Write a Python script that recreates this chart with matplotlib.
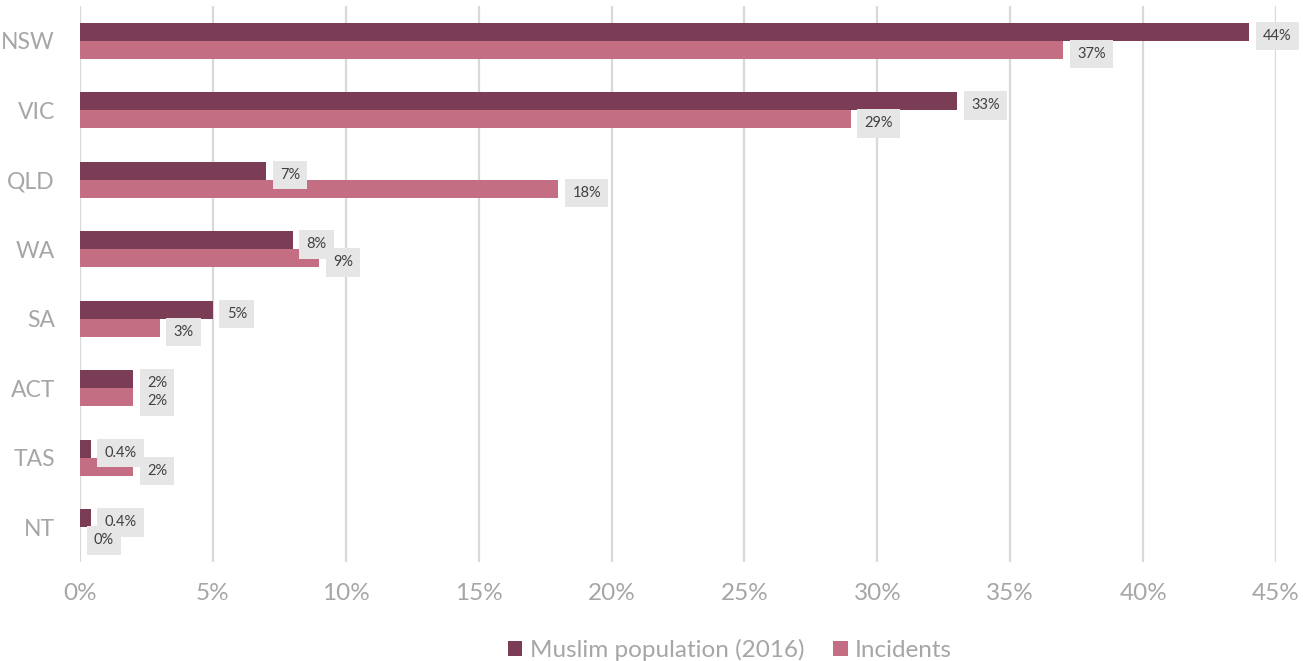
import numpy as np
import matplotlib
matplotlib.use('Agg')
import matplotlib.pyplot as plt
from matplotlib.ticker import FuncFormatter

states = ['NSW', 'VIC', 'QLD', 'WA', 'SA', 'ACT', 'TAS', 'NT']
muslim_pop = [44, 33, 7, 8, 5, 2, 0.4, 0.4]
incidents = [37, 29, 18, 9, 3, 2, 2, 0]
xticks = [0, 5, 10, 15, 20, 25, 30, 35, 40, 45]

dark = '#7b3c55'
light = '#c46e84'
grey = '#a6a6a6'

plt.rcParams['font.family'] = ['Lato', 'DejaVu Sans']

fig = plt.figure(figsize=(13.03, 6.61), dpi=100)
ax = fig.add_axes([80 / 1303, 1 - 562 / 661, 1196 / 1303, 556 / 661])

y = np.arange(len(states))
h = 0.26
b1 = ax.barh(y - h / 2, muslim_pop, height=h, color=dark, label='Muslim population (2016)', zorder=3)
b2 = ax.barh(y + h / 2, incidents, height=h, color=light, label='Incidents', zorder=3)

# data labels in grey boxes
for bars, vals in ((b1, muslim_pop), (b2, incidents)):
    for bar, v in zip(bars, vals):
        ax.annotate(f'{v:g}%', xy=(bar.get_width(), bar.get_y() + bar.get_height() / 2),
                    xytext=(10, -3), textcoords='offset points', ha='left', va='center',
                    fontsize=10.5, color='#404040', zorder=5,
                    bbox=dict(boxstyle='square,pad=0.5', fc='#e6e6e6', ec='none'))

ax.set_xlim(0, 45)
ax.set_ylim(len(states) - 0.5, -0.5)
ax.set_yticks(y)
ax.set_yticklabels(states)
ax.set_xticks(xticks)
ax.xaxis.set_major_formatter(FuncFormatter(lambda v, p: f'{v:g}%'))
ax.grid(axis='x', color='#d9d9d9', linewidth=1.6, zorder=0)
ax.set_axisbelow(True)
for s in ax.spines.values():
    s.set_visible(False)
ax.tick_params(axis='y', length=0, pad=18, labelsize=16.5, labelcolor=grey)
ax.tick_params(axis='x', length=0, pad=15, labelsize=17.5, labelcolor=grey)

fig.legend(handles=[b1, b2], loc='center', bbox_to_anchor=(730 / 1303, 1 - 650 / 661),
           ncol=2, frameon=False, fontsize=17.5, labelcolor=grey,
           handlelength=0.6, handleheight=0.6, handletextpad=0.3, columnspacing=1.2)

fig.savefig('out.png', dpi=100)
